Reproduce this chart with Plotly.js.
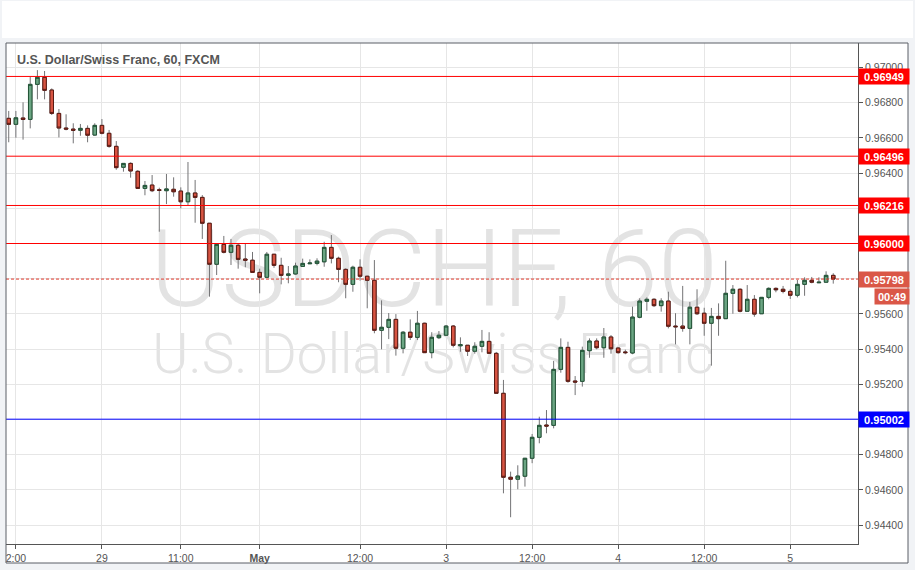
<!DOCTYPE html>
<html>
<head>
<meta charset="utf-8">
<script src="https://cdn.plot.ly/plotly-3.0.1.min.js"></script>
<style>html,body{margin:0;padding:0;background:#f1f3f6;}#chart{width:915px;height:570px;}</style>
</head>
<body>
<div id="chart"></div>
<script>
// ---- data: hourly USD/CHF candles (FXCM, 60 min) ----
const sessions = [
  { start: "2016-04-28T11:00:00Z", bars: 35 },
  { start: "2016-05-01T22:00:00Z", bars: 81 }
];
const openP = [0.96711,0.96677,0.96713,0.96705,0.96904,0.96944,0.96872,0.96739,0.96656,0.96650,
0.96643,0.96654,0.96616,0.96671,0.96626,0.96552,0.96433,0.96455,0.96410,0.96313,
0.96332,0.96305,0.96300,0.96308,0.96298,0.96237,0.96287,0.96262,0.96115,0.95882,
0.95995,0.95950,0.95990,0.95912,0.95905,0.95836,0.95808,0.95939,0.95876,0.95819,
0.95827,0.95870,0.95885,0.95887,0.95896,0.95978,0.95916,0.95853,0.95768,0.95865,
0.95814,0.95791,0.95507,0.95524,0.95569,0.95405,0.95496,0.95467,0.95547,0.95380,
0.95465,0.95479,0.95531,0.95419,0.95422,0.95388,0.95416,0.95444,0.95376,0.95149,
0.94672,0.94661,0.94678,0.94780,0.94899,0.94969,0.94967,0.95285,0.95410,0.95219,
0.95217,0.95391,0.95446,0.95408,0.95469,0.95406,0.95384,0.95378,0.95581,0.95672,
0.95683,0.95647,0.95673,0.95531,0.95531,0.95518,0.95638,0.95604,0.95547,0.95586,
0.95573,0.95717,0.95740,0.95615,0.95683,0.95601,0.95694,0.95745,0.95740,0.95728,
0.95706,0.95768,0.95791,0.95777,0.95780,0.95819];
const highP = [0.96753,0.96753,0.96802,0.96947,0.96985,0.96980,0.96881,0.96764,0.96734,0.96683,
0.96679,0.96671,0.96683,0.96707,0.96645,0.96582,0.96455,0.96461,0.96417,0.96355,
0.96389,0.96317,0.96395,0.96376,0.96319,0.96463,0.96361,0.96275,0.96115,0.95995,
0.96043,0.96026,0.96001,0.95997,0.95952,0.95857,0.95952,0.95939,0.95919,0.95872,
0.95891,0.95914,0.95910,0.95916,0.96010,0.96048,0.95925,0.95859,0.95874,0.95910,
0.95817,0.95906,0.95677,0.95605,0.95599,0.95503,0.95569,0.95617,0.95550,0.95496,
0.95503,0.95537,0.95537,0.95467,0.95422,0.95439,0.95509,0.95496,0.95384,0.95225,
0.94704,0.94740,0.94780,0.94918,0.95016,0.95054,0.95333,0.95461,0.95442,0.95247,
0.95414,0.95461,0.95461,0.95520,0.95480,0.95412,0.95397,0.95641,0.95689,0.95694,
0.95689,0.95689,0.95726,0.95604,0.95759,0.95668,0.95740,0.95635,0.95634,0.95660,
0.95902,0.95764,0.95745,0.95764,0.95707,0.95694,0.95751,0.95751,0.95759,0.95740,
0.95793,0.95808,0.95810,0.95808,0.95842,0.95831];
const lowP = [0.96575,0.96601,0.96590,0.96654,0.96819,0.96819,0.96730,0.96603,0.96643,0.96569,
0.96612,0.96575,0.96612,0.96620,0.96544,0.96419,0.96408,0.96374,0.96313,0.96274,
0.96292,0.96067,0.96224,0.96266,0.96200,0.96219,0.96118,0.96026,0.95698,0.95821,
0.95944,0.95878,0.95857,0.95865,0.95836,0.95717,0.95808,0.95862,0.95768,0.95774,
0.95823,0.95870,0.95885,0.95876,0.95868,0.95887,0.95780,0.95689,0.95726,0.95789,
0.95632,0.95490,0.95399,0.95457,0.95363,0.95376,0.95452,0.95452,0.95380,0.95348,
0.95457,0.95479,0.95410,0.95385,0.95361,0.95374,0.95382,0.95376,0.95149,0.94581,
0.94445,0.94604,0.94619,0.94752,0.94865,0.94922,0.94950,0.95266,0.95209,0.95139,
0.95187,0.95351,0.95399,0.95351,0.95374,0.95374,0.95371,0.95371,0.95575,0.95618,
0.95639,0.95613,0.95518,0.95427,0.95499,0.95427,0.95594,0.95476,0.95306,0.95476,
0.95573,0.95601,0.95609,0.95615,0.95584,0.95601,0.95683,0.95723,0.95717,0.95685,
0.95694,0.95703,0.95774,0.95777,0.95780,0.95772];
const closeP = [0.96677,0.96714,0.96705,0.96904,0.96944,0.96870,0.96739,0.96656,0.96650,0.96643,
0.96654,0.96615,0.96671,0.96626,0.96552,0.96431,0.96455,0.96412,0.96313,0.96330,
0.96300,0.96302,0.96310,0.96294,0.96237,0.96287,0.96262,0.96115,0.95882,0.95995,
0.95950,0.95990,0.95910,0.95905,0.95836,0.95808,0.95939,0.95876,0.95819,0.95827,
0.95872,0.95887,0.95889,0.95900,0.95978,0.95916,0.95853,0.95768,0.95865,0.95814,
0.95791,0.95507,0.95524,0.95569,0.95405,0.95496,0.95467,0.95547,0.95380,0.95467,
0.95479,0.95531,0.95422,0.95425,0.95388,0.95416,0.95444,0.95376,0.95149,0.94672,
0.94661,0.94679,0.94780,0.94899,0.94967,0.94963,0.95285,0.95410,0.95217,0.95213,
0.95393,0.95446,0.95408,0.95469,0.95402,0.95380,0.95380,0.95582,0.95673,0.95683,
0.95647,0.95673,0.95530,0.95527,0.95518,0.95638,0.95601,0.95547,0.95586,0.95573,
0.95717,0.95740,0.95615,0.95683,0.95599,0.95694,0.95745,0.95737,0.95728,0.95706,
0.95768,0.95791,0.95780,0.95780,0.95819,0.95798];

const tickCats = ["04-28 12:00","04-29 00:00","04-29 11:00","05-01 22:00","05-02 12:00",
                  "05-03 00:00","05-03 12:00","05-04 00:00","05-04 12:00","05-05 00:00"];
const tickLabels = ["2:00","29","11:00","<b>May</b>","12:00","3","12:00","4","12:00","5"];

// price-axis ticks; labels hidden behind level tags are left blank
const yTickVals = [0.944, 0.946, 0.948, 0.950, 0.952, 0.954, 0.956, 0.958, 0.960, 0.962, 0.964, 0.966, 0.968, 0.970];
const yTickText = ["0.94400","0.94600","0.94800","","0.95200","0.95400","0.95600","","","","0.96400","0.96600","0.96800","0.97000"];

const levelPrices = [0.96949, 0.96496, 0.96216, 0.96000, 0.95002];
const levelColors = ["#ff0000", "#ff0000", "#ff0000", "#ff0000", "#0000ff"];
const lastPrice = 0.95798;
const barTimer = "00:49";
const chartTitle = "U.S. Dollar/Swiss Franc, 60, FXCM";
const watermark1 = "USDCHF, 60";
const watermark2 = "U.S. Dollar/Swiss Franc";

// ---- build categories ----
const times = [];
const pad = n => String(n).padStart(2, "0");
sessions.forEach(s => {
  const t0 = new Date(s.start).getTime();
  for (let k = 0; k < s.bars; k++) {
    const d = new Date(t0 + k * 3600000);
    times.push(pad(d.getUTCMonth() + 1) + "-" + pad(d.getUTCDate()) + " " + pad(d.getUTCHours()) + ":00");
  }
});

// pixel helpers (plot area: x 6..858, y 43..544)
const PL = 6, PR = 858, PT = 43, PB = 544;
const X = px => (px - PL) / (PR - PL);
const Y = py => (PB - py) / (PB - PT);

const bodyHigh = openP.map((o, i) => Math.max(o, closeP[i]));
const bodyLow = openP.map((o, i) => Math.min(o, closeP[i]));

const wickTrace = {
  type: "candlestick", x: times, open: openP, high: highP, low: lowP, close: closeP,
  increasing: { line: { color: "#737375", width: 1 }, fillcolor: "#6ba583" },
  decreasing: { line: { color: "#737375", width: 1 }, fillcolor: "#d75442" },
  whiskerwidth: 0, hoverinfo: "skip", showlegend: false
};
const bodyTrace = {
  type: "candlestick", x: times, open: openP, high: bodyHigh, low: bodyLow, close: closeP,
  increasing: { line: { color: "#225437", width: 1 }, fillcolor: "#6ba583" },
  decreasing: { line: { color: "#5b1a13", width: 1 }, fillcolor: "#d75442" },
  whiskerwidth: 0, hoverinfo: "skip", showlegend: false
};

const shapes = [
  { type: "rect", xref: "paper", yref: "paper", x0: X(2), x1: X(913), y0: Y(38), y1: Y(1),
    fillcolor: "#ffffff", line: { width: 0 }, layer: "below" },
  { type: "rect", xref: "paper", yref: "paper", x0: X(6), x1: X(908), y0: Y(563), y1: Y(43),
    fillcolor: "#ffffff", line: { width: 0 }, layer: "below" },
  { type: "rect", xref: "paper", yref: "paper", x0: X(134), x1: X(734), y0: Y(312), y1: Y(210),
    fillcolor: "rgba(0,0,0,0)", line: { width: 0 }, layer: "below",
    label: { text: watermark1, textposition: "middle center",
      font: { family: "Roboto, Arial, sans-serif", size: 108, color: "#e3e3e3", weight: 300 } } },
  { type: "rect", xref: "paper", yref: "paper", x0: X(133), x1: X(733), y0: Y(378), y1: Y(322),
    fillcolor: "rgba(0,0,0,0)", line: { width: 0 }, layer: "below",
    label: { text: watermark2, textposition: "middle center",
      font: { family: "Roboto, Arial, sans-serif", size: 55, color: "#e3e3e3", weight: 300 } } }
];
levelPrices.forEach((p, i) => {
  shapes.push({ type: "line", xref: "paper", yref: "y", x0: 0, x1: 1, y0: p, y1: p,
    line: { color: levelColors[i], width: 1 }, layer: "above" });
});
shapes.push({ type: "line", xref: "paper", yref: "y", x0: 0, x1: 1, y0: lastPrice, y1: lastPrice,
  line: { color: "#e0392b", width: 1, dash: "3px,2px" }, layer: "above" });
shapes.push({ type: "rect", xref: "paper", yref: "paper", x0: X(6), x1: X(908), y0: Y(563), y1: Y(43),
  line: { color: "#5a5e66", width: 1 }, fillcolor: "rgba(0,0,0,0)", layer: "above" });

const annotations = [
  { xref: "paper", yref: "paper", x: X(15), y: Y(60), xanchor: "left", yanchor: "middle",
    text: chartTitle, showarrow: false,
    font: { family: "Arial, Liberation Sans, sans-serif", size: 12.5, color: "#555555", weight: 700 } }
];
levelPrices.forEach((p, i) => {
  annotations.push({ xref: "paper", yref: "y", x: 1, y: p, xanchor: "left", yanchor: "middle",
    text: "<b>" + p.toFixed(5) + "</b>", showarrow: false, bgcolor: levelColors[i],
    width: 48, height: 13, borderpad: 1, align: "center",
    font: { family: "Arial, Liberation Sans, sans-serif", size: 11, color: "#ffffff" } });
});
annotations.push({ xref: "paper", yref: "y", x: 1, y: lastPrice, xanchor: "left", yanchor: "middle",
  text: "<b>" + lastPrice.toFixed(5) + "</b>", showarrow: false, bgcolor: "#da5747",
  width: 48, height: 13, borderpad: 1, align: "center",
  font: { family: "Arial, Liberation Sans, sans-serif", size: 11, color: "#ffffff" } });
annotations.push({ xref: "paper", yref: "paper", x: X(874), y: Y(296), xanchor: "left", yanchor: "middle",
  text: "<b>" + barTimer + "</b>", showarrow: false, bgcolor: "#da5747",
  width: 32, height: 13, borderpad: 1, align: "center",
  font: { family: "Arial, Liberation Sans, sans-serif", size: 11, color: "#ffffff" } });

const layout = {
  width: 915, height: 570,
  margin: { l: PL, r: 915 - PR, t: PT, b: 570 - PB, autoexpand: false },
  paper_bgcolor: "#f1f3f6",
  plot_bgcolor: "rgba(0,0,0,0)",
  showlegend: false,
  dragmode: false,
  xaxis: {
    type: "category", range: [-0.38, 118.45], rangeslider: { visible: false },
    tickmode: "array", tickvals: tickCats, ticktext: tickLabels,
    showgrid: true, gridcolor: "#e6e6e6", gridwidth: 1,
    ticks: "outside", ticklen: 4, tickcolor: "#555555",
    showline: true, linecolor: "#555555", linewidth: 1,
    tickfont: { family: "Arial, Liberation Sans, sans-serif", size: 10.5, color: "#555555" },
    fixedrange: true
  },
  yaxis: {
    side: "right", range: [0.94293, 0.97139],
    tickmode: "array", tickvals: yTickVals, ticktext: yTickText,
    showgrid: true, gridcolor: "#e6e6e6", gridwidth: 1, zeroline: false,
    ticks: "outside", ticklen: 4, tickcolor: "#555555",
    showline: true, linecolor: "#555555", linewidth: 1,
    tickfont: { family: "Arial, Liberation Sans, sans-serif", size: 10.5, color: "#555555" },
    fixedrange: true
  },
  shapes: shapes,
  annotations: annotations
};

Plotly.newPlot("chart", [wickTrace, bodyTrace], layout, { staticPlot: true, displayModeBar: false });
</script>
</body>
</html>
